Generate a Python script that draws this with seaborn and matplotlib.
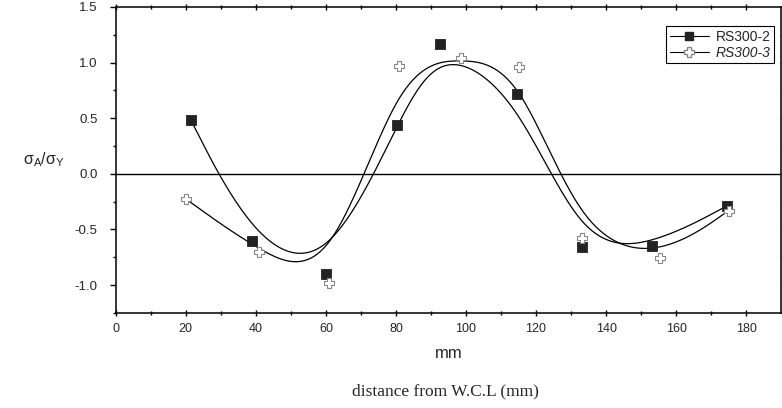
import numpy as np
import pandas as pd
import matplotlib
matplotlib.use("Agg")
import matplotlib.pyplot as plt
import seaborn as sns

# measured points (distance from W.C.L in mm, sigma_A / sigma_Y)
x_rs2 = [21.5, 39.0, 60.0, 80.3, 92.6, 114.5, 133.0, 153.0, 174.4]
y_rs2 = [0.48, -0.60, -0.90, 0.44, 1.17, 0.72, -0.66, -0.65, -0.29]
x_rs3 = [20.2, 41.0, 61.0, 80.9, 98.6, 115.0, 133.0, 155.5, 175.0]
y_rs3 = [-0.23, -0.70, -0.98, 0.97, 1.04, 0.96, -0.58, -0.76, -0.33]
xticks = [0, 20, 40, 60, 80, 100, 120, 140, 160, 180]
yticks = [-1.0, -0.5, 0.0, 0.5, 1.0, 1.5]


def bspline(px, py, steps=40):
    # uniform cubic B-spline, data points as control points, end points tripled
    px = np.concatenate([[px[0]] * 2, px, [px[-1]] * 2])
    py = np.concatenate([[py[0]] * 2, py, [py[-1]] * 2])
    u = np.linspace(0, 1, steps)
    b = np.stack([(1 - u) ** 3, 3 * u ** 3 - 6 * u ** 2 + 4,
                  -3 * u ** 3 + 3 * u ** 2 + 3 * u + 1, u ** 3]) / 6
    xs, ys = [], []
    for i in range(len(px) - 3):
        xs.append(b.T @ px[i:i + 4])
        ys.append(b.T @ py[i:i + 4])
    return np.concatenate(xs), np.concatenate(ys)


sns.set_theme(style="white")
plt.rcParams['font.family'] = ['Liberation Sans', 'DejaVu Sans']
plt.rcParams['mathtext.fontset'] = 'custom'
plt.rcParams['mathtext.rm'] = 'Liberation Sans'

fig = plt.figure(figsize=(7.82, 4.08), dpi=100)
ax = fig.add_axes([0.148, 0.233, 0.851, 0.75])

# fitted curves
cx2, cy2 = bspline(x_rs2, y_rs2)
cx3, cy3 = bspline(x_rs3, y_rs3)
ax.plot(cx2, cy2, color="black", lw=0.9, zorder=2)
ax.plot(cx3, cy3, color="black", lw=0.9, zorder=2)

df = pd.DataFrame({
    "x": x_rs2 + x_rs3,
    "y": y_rs2 + y_rs3,
    "series": ["RS300-2"] * len(x_rs2) + ["RS300-3"] * len(x_rs3),
})
sns.scatterplot(data=df[df.series == "RS300-2"], x="x", y="y", marker="s", s=45,
                color="#222222", edgecolor="#222222", linewidth=0.6, ax=ax, zorder=3, legend=False)
sns.scatterplot(data=df[df.series == "RS300-3"], x="x", y="y", marker="P", s=50,
                color="white", edgecolor="#888888", linewidth=0.8, ax=ax, zorder=3, legend=False)

ax.axhline(0, color="black", lw=1.0, zorder=1)

ax.set_xlim(0, 190)
ax.set_ylim(-1.25, 1.5)
ax.set_xticks(xticks)
ax.set_yticks(yticks)
ax.set_xticks(np.arange(10, 190, 20), minor=True)
ax.set_yticks([-1.25, -0.75, -0.25, 0.25, 0.75, 1.25], minor=True)
ax.set_yticklabels([f"{v:.1f}" for v in yticks])
ax.tick_params(which="both", direction="out", color="black",
               bottom=True, left=True, top=True, right=True)
ax.tick_params(axis="x", labelsize=9, pad=5)
ax.tick_params(axis="y", labelsize=9.5, pad=9)
ax.tick_params(which="major", length=4, width=1)
ax.tick_params(which="minor", length=2.5, width=1)
ax.tick_params(axis="x", which="both", top=True, direction="inout")
for s in ax.spines.values():
    s.set_color("black")
    s.set_linewidth(1.1)

ax.set_xlabel("mm", fontsize=12, labelpad=8)
ax.set_ylabel(r"$\mathregular{\sigma_A/\sigma_Y}$", fontsize=11.5, rotation=0,
              labelpad=22, va="center")

# legend
h2 = ax.plot([], [], color="black", lw=0.8, marker="s", ms=6, mfc="#222222", mec="#222222")[0]
h3 = ax.plot([], [], color="black", lw=0.8, marker="P", ms=7, mfc="white", mec="#888888")[0]
leg = ax.legend([h2, h3], ["RS300-2", "RS300-3"], loc="upper right", fontsize=10,
                fancybox=False, edgecolor="black", framealpha=1, handlelength=2.8,
                handletextpad=0.5, borderpad=0.25, labelspacing=0.15,
                bbox_to_anchor=(1.0, 0.96))
leg.get_frame().set_linewidth(0.8)
leg.get_texts()[1].set_style("italic")

fig.text(0.57, 0.04, "distance from W.C.L (mm)", family="Liberation Serif",
         fontsize=12.5, ha="center", va="center")

fig.savefig("out.png", dpi=100)
